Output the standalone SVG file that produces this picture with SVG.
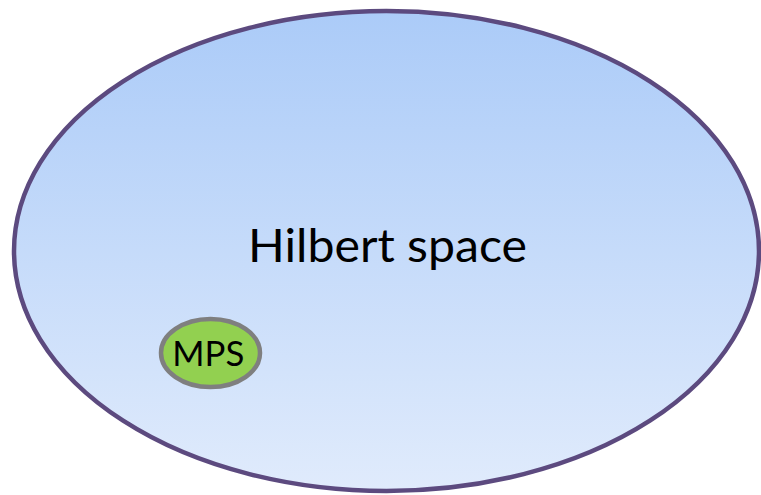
<svg xmlns="http://www.w3.org/2000/svg" width="761" height="495" viewBox="0 0 761 495">
  <style>
    .label { font-family: Lato, "Open Sans", "Liberation Sans", sans-serif; fill: #000; text-anchor: middle; }
  </style>
  <defs>
    <linearGradient id="spaceFill" x1="0" y1="0" x2="0" y2="1">
      <stop offset="0" stop-color="#abcbf8"/>
      <stop offset="1" stop-color="#e0ebfc"/>
    </linearGradient>
  </defs>
  <rect width="761" height="495" fill="#ffffff"/>
  <g id="hilbert">
    <ellipse cx="386.5" cy="251" rx="372.5" ry="240" fill="url(#spaceFill)" stroke="#5c4a7f" stroke-width="4.5"/>
    <text class="label" x="387.5" y="262" font-size="47" textLength="279" lengthAdjust="spacingAndGlyphs">Hilbert space</text>
  </g>
  <g id="mps">
    <ellipse cx="210.5" cy="353" rx="49.5" ry="34" fill="#92d050" stroke="#7f7f7f" stroke-width="4.5"/>
    <text class="label" x="208.3" y="365.5" font-size="35" textLength="72" lengthAdjust="spacingAndGlyphs">MPS</text>
  </g>
</svg>
